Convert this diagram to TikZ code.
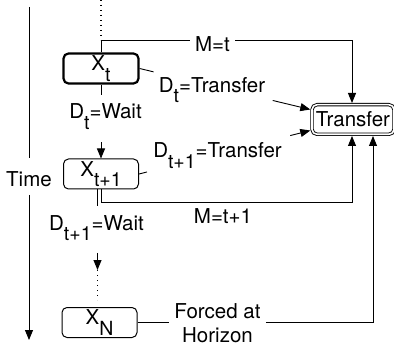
\documentclass[tikz,border=0pt]{standalone}
\usepackage{fontspec}
\setmainfont{TeX Gyre Heros}
\usetikzlibrary{arrows.meta,calc}
\newcommand{\sbs}[1]{\raisebox{-10.5pt}{\fontsize{19.5}{19.5}\selectfont #1}}
\newcommand{\ssbs}[1]{\smash{\sbs{#1}}}
\begin{document}
\begin{tikzpicture}[x=1pt,y=-1pt,
  font=\fontsize{20.5}{24}\selectfont,
  >={Triangle[length=10pt,width=8pt]},
  line width=0.9pt,
  box/.style={draw, rounded corners=5pt, inner sep=0pt, minimum width=75pt, minimum height=30pt, line width=1pt},
  thickbox/.style={box, line width=2.2pt},
  dbl/.style={draw, double, double distance=1.6pt, line width=0.9pt, rounded corners=5pt, inner sep=0pt, minimum width=82pt, minimum height=29.6pt, outer sep=1.7pt},
  lbl/.style={inner sep=0pt, anchor=base},
  dotline/.style={line width=1.2pt, dash pattern=on 1.2pt off 3.8pt}]
\useasboundingbox (0,0) rectangle (394,350);

% nodes
\node[thickbox] (xt) at (101,68.5) {X\sbs{t}};
\node[box] (xt1) at (101,174) {X\sbs{t+1}};
\node[box] (xn) at (99.5,322.5) {X\sbs{N}};
\node[dbl] (tr) at (353,119.5) {Transfer};

\node[lbl] (ldt) at (212,92.5) {D\ssbs{t}=Transfer};
\node[lbl] (ldt1) at (217.5,158) {D\ssbs{t+1}=Transfer};
\node[lbl] (lw1) at (105.5,119) {D\ssbs{t}=Wait};
\node[lbl] (lw2) at (96.5,230) {D\ssbs{t+1}=Wait};
\node[lbl] (lm2) at (223,224) {M=t+1};
\node[lbl] (time) at (29,187) {Time};
\node[align=center, inner xsep=5pt, inner ysep=0pt] (fh) at (217.5,322.8) {Forced at\\Horizon};

% coordinates
\coordinate (dtop) at (101,0);
\coordinate (mc) at (101,40);
\coordinate (ti1) at ($(tr.west)+(0,-10)$);
\coordinate (ti2) at ($(tr.west)+(0,11)$);
\coordinate (tn) at ($(tr.north)+(-1,0)$);
\coordinate (ts) at ($(tr.south)+(-1,0)$);
\coordinate (tr3) at ($(tr.south)+(20,0)$);
\coordinate (tt) at (29,7);
\coordinate (tm1) at (29,158);
\coordinate (tm2) at (29,195);
\coordinate (tb) at (29,340);
\coordinate (w1a) at ($(xt.south)+(0,10)$);
\coordinate (w1b) at ($(xt1.north)+(0,-16)$);
\coordinate (w2s) at ($(xt1.south)+(-3.5,0)$);
\coordinate (w2a) at ($(w2s)+(0,17)$);
\coordinate (w2b) at (97.5,253);
\coordinate (w2c) at (97.5,270);
\coordinate (w2d) at (97.5,300);
\coordinate (m2c) at ($(xt1.south)+(0,13)$);

% connectors
\draw[dotline] (dtop) -- (mc);
\draw[->] (xt.north) -- (mc) -| (tn);
\node[lbl, fill=white, inner xsep=5.5pt, inner ysep=2pt] (mt) at (212.5,51.5) {M=t};

\draw (xt.east) -- ($(xt.east)!0.082!(ti1)$);
\draw[->] ($(xt.east)!0.78!(ti1)$) -- (ti1);
\draw (xt1.east) -- ($(xt1.east)!0.047!(ti2)$);
\draw[->] ($(xt1.east)!0.883!(ti2)$) -- (ti2);

\draw (xt.south) -- (w1a);
\draw[->] (w1b) -- (xt1.north);

\draw (w2s) -- (w2a);
\draw[->] (w2b) -- (w2c);
\draw[dotline] (w2c) -- (w2d);

\draw[->] (xt1.south) -- (m2c) -| (ts);

\draw (xn.east) -- (xn.east -| fh.west);
\draw[->] (xn.east -| fh.east) -| (tr3);

\draw (tt) -- (tm1);
\draw[->] (tm2) -- (tb);
\end{tikzpicture}
\end{document}
